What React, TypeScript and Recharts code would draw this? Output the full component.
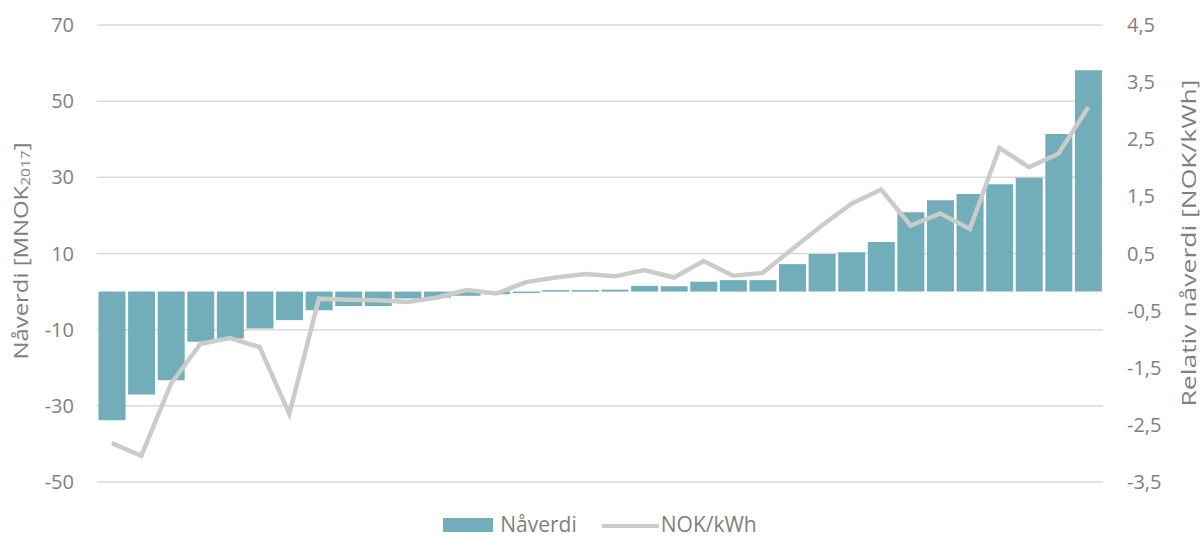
import { Bar, CartesianGrid, ComposedChart, Legend, Line, XAxis, YAxis } from "recharts"

const categories = Array.from({ length: 34 }, (_, i) => `P${i + 1}`)

const naverdi = [
  -33.8, -27.0, -23.3, -13.2, -12.3, -9.7, -7.5, -4.9, -3.8, -3.8, -1.8, -1.6, -1.1, -0.7, -0.4, 0.4, 0.4,
  0.5, 1.5, 1.4, 2.6, 3.0, 3.0, 7.2, 9.9, 10.3, 13.0, 20.8, 24.0, 25.6, 28.2, 29.9, 41.4, 58.1,
]

const nokPerKwh = [
  -2.82, -3.04, -1.78, -1.08, -0.98, -1.14, -2.31, -0.29, -0.31, -0.32, -0.35, -0.27, -0.14, -0.2, 0.0, 0.08,
  0.14, 0.1, 0.21, 0.08, 0.37, 0.11, 0.16, 0.58, 0.99, 1.37, 1.62, 0.99, 1.2, 0.93, 2.35, 2.01, 2.25, 3.06,
]

const leftTicks = [-50, -30, -10, 10, 30, 50, 70]
const rightTicks = [-3.5, -2.5, -1.5, -0.5, 0.5, 1.5, 2.5, 3.5, 4.5]

const data = categories.map((name, i) => ({ name, naverdi: naverdi[i], nok: nokPerKwh[i] }))

const barColor = "#71aeb9"
const lineColor = "#cbcbcb"
const textColor = "#808080"
const font = "'Open Sans', sans-serif"

const LeftTitle = () => (
  <text
    transform="translate(20, 251) rotate(-90)"
    textAnchor="middle"
    dominantBaseline="central"
    fill={textColor}
    fontFamily={font}
    fontSize={20}
    textLength={217}
    lengthAdjust="spacingAndGlyphs"
  >
    <tspan>Nåverdi [MNOK</tspan>
    <tspan fontSize={13} dy={5}>2017</tspan>
    <tspan dy={-5}>]</tspan>
  </text>
)

const RightTitle = () => (
  <text
    transform="translate(1188, 243) rotate(-90)"
    textAnchor="middle"
    dominantBaseline="central"
    fill={textColor}
    fontFamily={font}
    fontSize={20}
    textLength={327}
    lengthAdjust="spacingAndGlyphs"
  >
    Relativ nåverdi [NOK/kWh]
  </text>
)

// legend sits right at the bottom edge like the original
function ChartLegend() {
  return (
    <div
      style={{
        display: "flex",
        justifyContent: "center",
        alignItems: "flex-start",
        fontFamily: font,
        fontSize: 21,
        lineHeight: "21px",
        color: textColor,
      }}
    >
      <span style={{ display: "inline-block", width: 50, height: 14, background: barColor, marginTop: 4, marginRight: 7 }} />
      <span style={{ marginRight: 25 }}>Nåverdi</span>
      <span style={{ display: "inline-block", width: 57, height: 4, background: lineColor, marginTop: 10, marginRight: 2 }} />
      <span>NOK/kWh</span>
    </div>
  )
}

export default function App() {
  return (
    <div style={{ position: "absolute", left: 0, top: 0, width: 1200, height: 540, background: "#fff" }}>
      <ComposedChart
        width={1200}
        height={540}
        data={data}
        margin={{ top: 25, right: 0, bottom: 58, left: 0 }}
        barCategoryGap={1.5}
      >
        <CartesianGrid yAxisId="left" vertical={false} stroke="#d9d9d9" strokeWidth={1.5} />
        <XAxis dataKey="name" hide />
        <YAxis
          yAxisId="left"
          orientation="left"
          width={97}
          domain={[-50, 70]}
          ticks={leftTicks}
          axisLine={false}
          tickLine={false}
          tickMargin={17}
          tick={{ fill: textColor, fontSize: 20, fontFamily: font }}
          label={<LeftTitle />}
        />
        <YAxis
          yAxisId="right"
          orientation="right"
          width={97}
          domain={[-3.5, 4.5]}
          ticks={rightTicks}
          axisLine={false}
          tickLine={false}
          tickMargin={18}
          tick={{ fill: textColor, fontSize: 20, fontFamily: font, textAnchor: "start" }}
          tickFormatter={(v: number) => v.toFixed(1).replace(".", ",")}
          label={<RightTitle />}
        />
        <Legend
          verticalAlign="middle"
          align="center"
          content={<ChartLegend />}
          wrapperStyle={{ top: 514, left: 0, width: 1200 }}
        />
        <Bar yAxisId="left" name="Nåverdi" dataKey="naverdi" fill={barColor} isAnimationActive={false} />
        <Line
          yAxisId="right"
          name="NOK/kWh"
          dataKey="nok"
          stroke={lineColor}
          strokeWidth={4.5}
          dot={false}
          activeDot={false}
          type="linear"
          isAnimationActive={false}
        />
      </ComposedChart>
    </div>
  )
}
